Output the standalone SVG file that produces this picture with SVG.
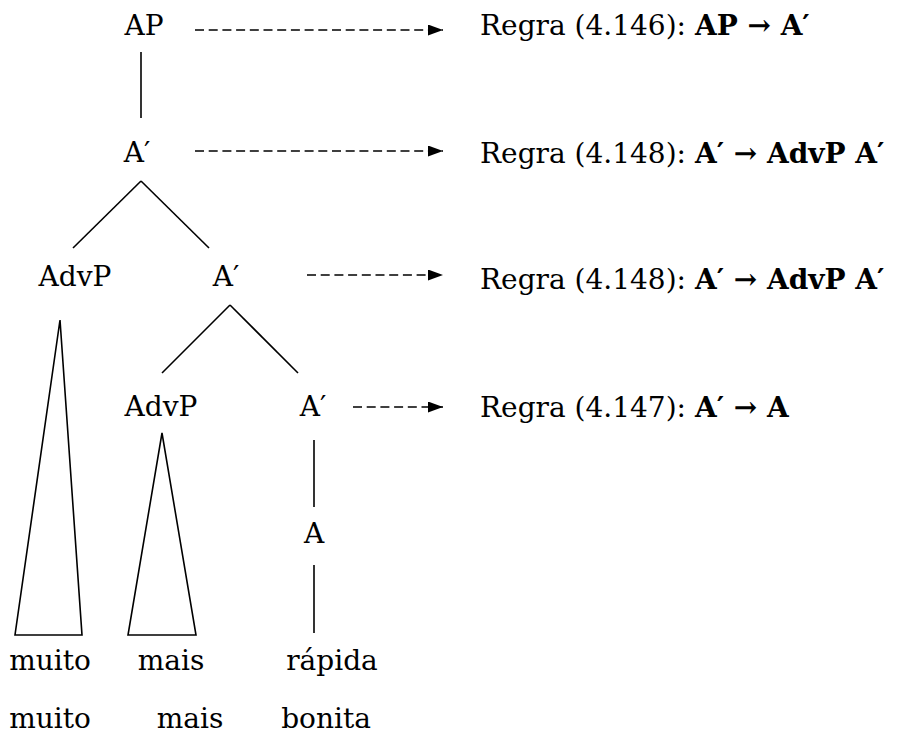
<svg xmlns="http://www.w3.org/2000/svg" width="898" height="737" viewBox="0 0 898 737">
<style>
text{font-family:"DejaVu Serif","Liberation Serif",serif;font-size:28px;fill:#000}
.n{text-anchor:middle}
.b{font-weight:bold}
.e{stroke:#000;stroke-width:1.6;fill:none}
.d{stroke:#000;stroke-width:1.6;fill:none;stroke-dasharray:9 4.7}
</style>
<defs>
<marker id="ah" viewBox="0 0 10 10" refX="10" refY="5" markerWidth="15" markerHeight="11" markerUnits="userSpaceOnUse" orient="auto" preserveAspectRatio="none">
<path d="M0,0 L10,5 L0,10 Z" fill="#000"/>
</marker>
</defs>
<rect width="898" height="737" fill="#fff"/>
<g id="connectors">
<line class="e" x1="141" y1="52" x2="141" y2="118"/>
<line class="e" x1="141" y1="181" x2="73" y2="248"/>
<line class="e" x1="141" y1="181" x2="209" y2="248"/>
<line class="e" x1="230" y1="305" x2="162" y2="373"/>
<line class="e" x1="230" y1="305" x2="298" y2="373"/>
<polygon class="e" points="60,320 15,635 82,635"/>
<polygon class="e" points="162,433 128,635 196,635"/>
<line class="e" x1="314" y1="440" x2="314" y2="507"/>
<line class="e" x1="314" y1="565" x2="314" y2="633"/>
<line class="d" x1="195" y1="30" x2="443" y2="30" marker-end="url(#ah)"/>
<line class="d" x1="195" y1="151" x2="443" y2="151" marker-end="url(#ah)"/>
<line class="d" x1="307" y1="275" x2="443" y2="275" marker-end="url(#ah)"/>
<line class="d" x1="353" y1="407" x2="443" y2="407" marker-end="url(#ah)"/>
</g>
<g id="n-AP"><text class="n" x="144" y="35">AP</text></g>
<g id="n-A1"><text class="n" x="137" y="162">A′</text></g>
<g id="n-AdvP1"><text class="n" x="75" y="286">AdvP</text></g>
<g id="n-A2"><text class="n" x="226" y="286">A′</text></g>
<g id="n-AdvP2"><text class="n" x="161" y="416">AdvP</text></g>
<g id="n-A3"><text class="n" x="313" y="416">A′</text></g>
<g id="n-A"><text class="n" x="314" y="543">A</text></g>
<g id="w-muito1"><text class="n" x="50" y="670">muito</text></g>
<g id="w-mais1"><text class="n" x="171" y="670">mais</text></g>
<g id="w-rapida"><text class="n" x="332" y="670">rápida</text></g>
<g id="w-muito2"><text class="n" x="50" y="728">muito</text></g>
<g id="w-mais2"><text class="n" x="190" y="728">mais</text></g>
<g id="w-bonita"><text class="n" x="326" y="728">bonita</text></g>
<g id="r1"><text x="480" y="35">Regra (4.146): <tspan class="b">AP → A′</tspan></text></g>
<g id="r2"><text x="480" y="163">Regra (4.148): <tspan class="b">A′ → AdvP A′</tspan></text></g>
<g id="r3"><text x="480" y="289">Regra (4.148): <tspan class="b">A′ → AdvP A′</tspan></text></g>
<g id="r4"><text x="480" y="417">Regra (4.147): <tspan class="b">A′ → A</tspan></text></g>
</svg>
